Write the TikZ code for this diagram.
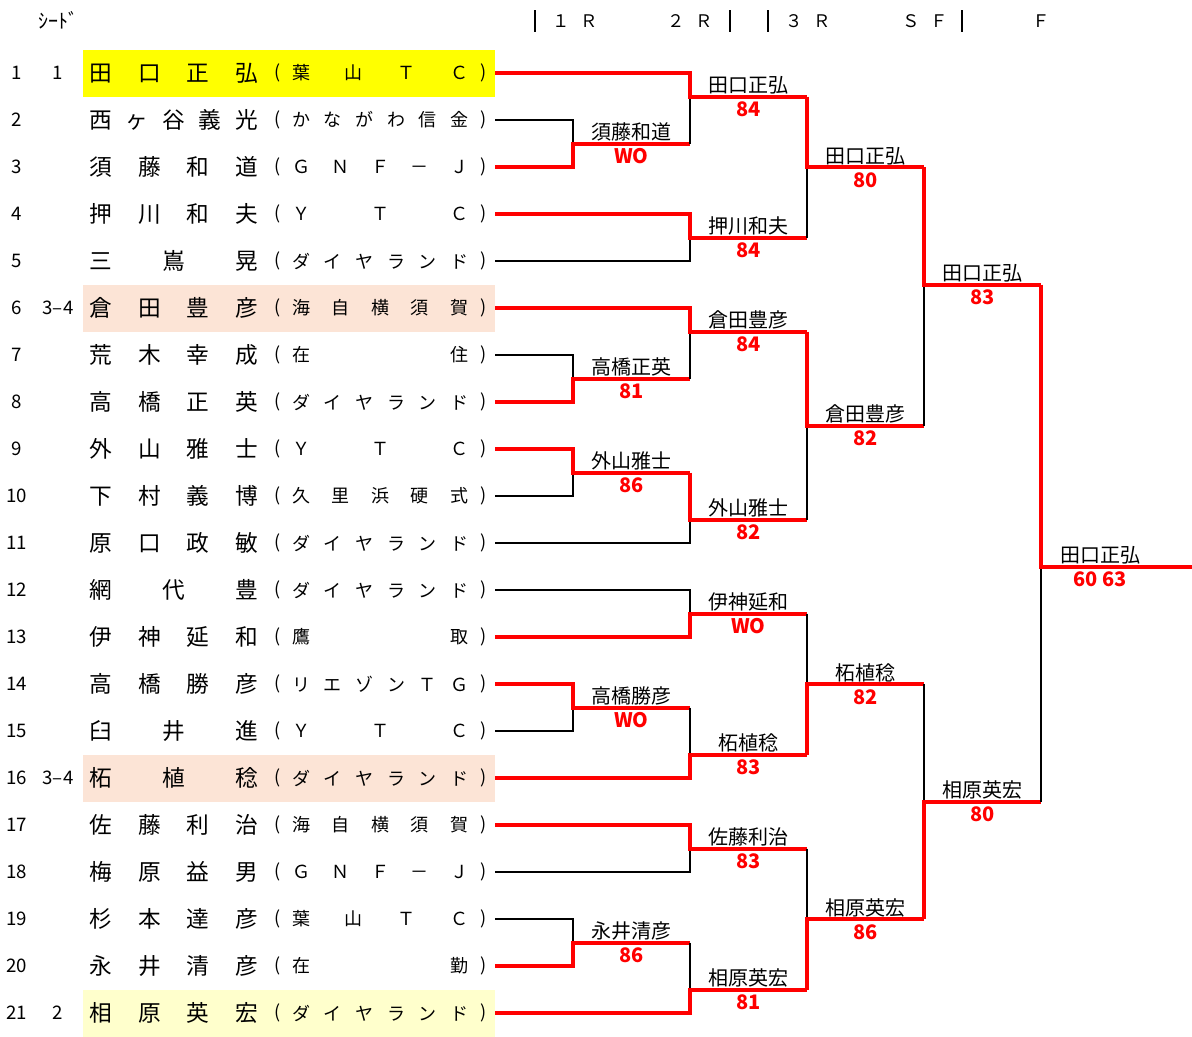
\documentclass[tikz,border=0pt]{standalone}
\usepackage{fontspec}
\setmainfont{Noto Sans CJK JP}
\definecolor{winred}{HTML}{FF0000}
\definecolor{seedone}{HTML}{FFFF00}
\definecolor{seedtwo}{HTML}{FFFFCC}
\definecolor{seedthree}{HTML}{FCE4D6}

\makeatletter
% spread the characters of #2 evenly over a box of width #1
\def\spr@go#1{\ifx#1\relax\else\hfill#1\expandafter\spr@go\fi}
\def\spr@first#1{#1\spr@go}
\newcommand\spread[2]{\hbox to #1{\edef\spr@l{#2}\expandafter\spr@first\spr@l\relax}}
\makeatother

\begin{document}
\begin{tikzpicture}[x=0.75pt, y=-0.75pt,
  lose/.style={draw=black, line width=1.5pt},
  won/.style={draw=winred, line width=3pt},
  rowno/.style={inner sep=0pt, font=\fontsize{14}{16}\selectfont},
  player/.style={anchor=west, inner sep=0pt, font=\fontsize{17}{20}\selectfont},
  club/.style={anchor=west, inner sep=0pt, font=\fontsize{13.5}{15}\selectfont},
  paren/.style={inner sep=0pt, font=\fontsize{13.5}{15}\selectfont},
  lbl/.style={anchor=base, inner sep=0pt, font=\fontsize{15}{17}\selectfont},
  score/.style={anchor=base, inner sep=0pt, text=winred,
                font=\fontsize{15}{17}\selectfont\bfseries},
  colhead/.style={inner sep=0pt, font=\fontsize{13}{15}\selectfont},
  colbar/.style={draw=black, line width=1.5pt}]
  \useasboundingbox (0,0) rectangle (1192,1036);

  % header
  \node[colhead, font=\fontsize{15}{17}\selectfont] (seedhead) at (58,20) {ｼｰﾄﾞ};
  \node[colhead] (r1head) at (575,21) {１\hspace{.6em}Ｒ};
  \node[colhead] (r2head) at (690,21) {２\hspace{.6em}Ｒ};
  \node[colhead] (r3head) at (808,21) {３\hspace{.6em}Ｒ};
  \node[colhead] (sfhead) at (925,21) {Ｓ\hspace{.6em}Ｆ};
  \node[colhead] (fhead) at (1041,21) {Ｆ};
  \foreach \bx in {535,730,768,962}
    \draw[colbar] (\bx,10) -- (\bx,32);

  % seeded rows
  \foreach \i/\tint in {1/seedone,6/seedthree,16/seedthree,21/seedtwo}
    \fill[\tint] (83,{49.5+47*(\i-1)}) rectangle (495,{96.5+47*(\i-1)});

  % players
  \foreach \i/\name/\team in {
    1/田口正弘/葉山ＴＣ, 2/西ヶ谷義光/かながわ信金, 3/須藤和道/ＧＮＦ－Ｊ,
    4/押川和夫/ＹＴＣ, 5/三嶌晃/ダイヤランド, 6/倉田豊彦/海自横須賀,
    7/荒木幸成/在住, 8/高橋正英/ダイヤランド, 9/外山雅士/ＹＴＣ,
    10/下村義博/久里浜硬式, 11/原口政敏/ダイヤランド, 12/網代豊/ダイヤランド,
    13/伊神延和/鷹取, 14/高橋勝彦/リエゾンＴＧ, 15/臼井進/ＹＴＣ,
    16/柘植稔/ダイヤランド, 17/佐藤利治/海自横須賀, 18/梅原益男/ＧＮＦ－Ｊ,
    19/杉本達彦/葉山ＴＣ, 20/永井清彦/在勤, 21/相原英宏/ダイヤランド}{
    \pgfmathsetmacro\ry{73+47*(\i-1)}
    \node[rowno] (r\i) at (17,\ry) {\i};
    \node[player] (name\i) at (89,\ry) {\spread{126.75pt}{\name}};
    \node[paren] (lp\i) at (278,\ry) {(};
    \node[club] (club\i) at (292,\ry) {\spread{132pt}{\team}};
    \node[paren] (rp\i) at (484,\ry) {)};
    \coordinate (p\i) at (495,\ry);
  }
  \foreach \i/\s in {1/1,6/3--4,16/3--4,21/2}
    \node[rowno] (s\i) at (58,{73+47*(\i-1)}) {\s};

  % matches: name / loser / winner / junction x / y / next x / label x / winner / score
  \foreach \g/\lo/\wi/\jx/\jy/\ex/\cx/\wn/\res in {
    a1/p2/p3/573/143.5/690/631.5/須藤和道/WO,
    a2/p7/p8/573/378.5/690/631.5/高橋正英/81,
    a3/p10/p9/573/472.5/690/631.5/外山雅士/86,
    a4/p15/p14/573/707.5/690/631.5/高橋勝彦/WO,
    a5/p19/p20/573/942.5/690/631.5/永井清彦/86,
    b1/a1-out/p1/690/96.5/807/748.5/田口正弘/84,
    b2/p5/p4/690/237.5/807/748.5/押川和夫/84,
    b3/a2-out/p6/690/331.5/807/748.5/倉田豊彦/84,
    b4/p11/a3-out/690/519.5/807/748.5/外山雅士/82,
    b5/p12/p13/690/613.5/807/748.5/伊神延和/WO,
    b6/a4-out/p16/690/754.5/807/748.5/柘植稔/83,
    b7/p18/p17/690/848.5/807/748.5/佐藤利治/83,
    b8/a5-out/p21/690/989.5/807/748.5/相原英宏/81,
    c1/b2-out/b1-out/807/167/924/865.5/田口正弘/80,
    c2/b4-out/b3-out/807/425.5/924/865.5/倉田豊彦/82,
    c3/b5-out/b6-out/807/684/924/865.5/柘植稔/82,
    c4/b7-out/b8-out/807/919/924/865.5/相原英宏/86,
    d1/c2-out/c1-out/924/284.5/1041/982.5/田口正弘/83,
    d2/c3-out/c4-out/924/801.5/1041/982.5/相原英宏/80,
    f/d2-out/d1-out/1041/566.5/1192/1100/田口正弘/60 63}{
    \coordinate (\g) at (\jx,\jy);
    \coordinate (\g-out) at (\ex,\jy);
    \draw[lose] (\lo) -| (\g);
    \draw[won] (\wi) -| (\g) -- (\g-out);
    \node[lbl] (\g-name) at (\cx,\jy-4) {\wn};
    \node[score] (\g-res) at (\cx,\jy+20) {\res};
  }
\end{tikzpicture}
\end{document}
